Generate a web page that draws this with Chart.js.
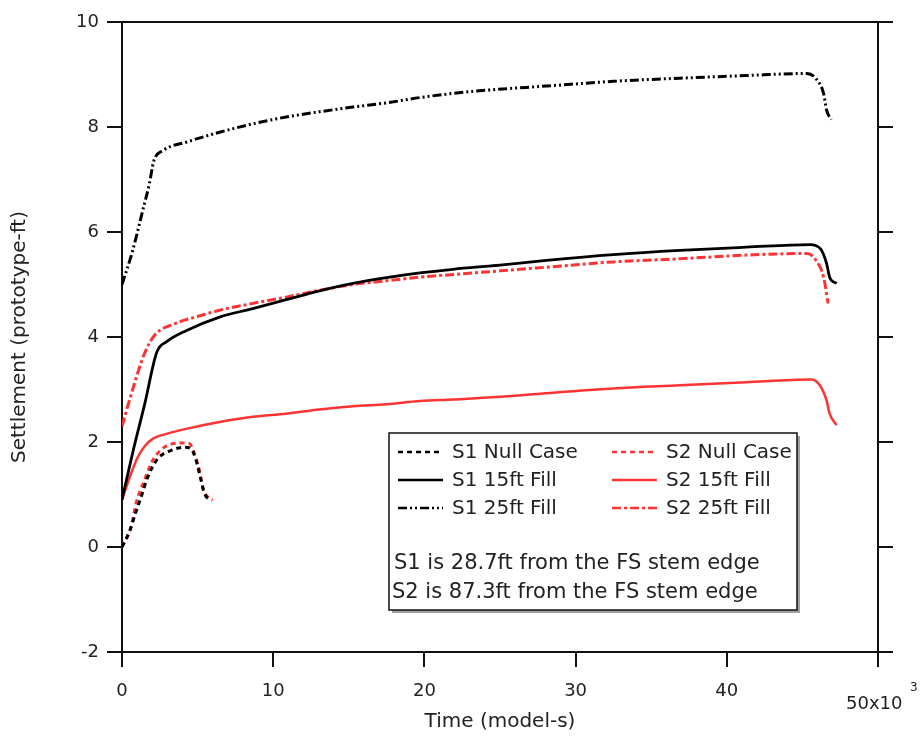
<!DOCTYPE html>
<html>
<head>
<meta charset="utf-8">
<title>Settlement vs time</title>
<script src="https://cdn.jsdelivr.net/npm/chart.js@4.4.1/dist/chart.umd.min.js"></script>
<style>
  html, body { margin: 0; padding: 0; background: #fff; }
  #wrap { width: 920px; height: 738px; }
</style>
</head>
<body>
<div id="wrap"><canvas id="settlementChart" width="920" height="738"></canvas></div>
<script>
// Time in thousands of model-seconds, settlement in prototype-ft
var s1NullT = [0, 0.5, 0.9, 1.26, 1.7, 2.36, 3.25, 4.13, 4.57, 4.9, 5.23, 5.45, 5.9];
var s1NullY = [0, 0.3, 0.65, 0.95, 1.33, 1.68, 1.84, 1.9, 1.87, 1.65, 1.27, 1.02, 0.89];

var s2NullT = [0, 0.6, 0.93, 1.48, 2.03, 2.8, 3.9, 4.46, 4.79, 5.12, 5.34, 5.67, 6.0];
var s2NullY = [0, 0.38, 0.83, 1.27, 1.65, 1.9, 1.98, 1.97, 1.78, 1.46, 1.14, 0.95, 0.89];

var s1Fill15T = [0, 0.71, 1.5, 2.3, 3.0, 4.24, 6.45, 8.65, 10.86, 13.06, 15.27, 17.5, 19.7, 21.9, 25, 28.07, 32.5, 36.9, 41.3, 45.5, 46.2, 46.6, 46.8, 47.26];
var s1Fill15Y = [0.9, 1.8, 2.72, 3.71, 3.92, 4.12, 4.38, 4.54, 4.71, 4.88, 5.02, 5.13, 5.22, 5.29, 5.37, 5.46, 5.57, 5.65, 5.71, 5.76, 5.68, 5.40, 5.14, 5.02];

var s2Fill15T = [0, 0.6, 1.04, 1.5, 2.03, 3, 4.24, 6.45, 8.65, 10.86, 13.06, 15.27, 17.5, 19.7, 21.9, 25, 28.07, 32.5, 36.9, 41.3, 45.6, 46.15, 46.6, 46.8, 47.26];
var s2Fill15Y = [0.9, 1.4, 1.71, 1.92, 2.06, 2.16, 2.25, 2.38, 2.48, 2.54, 2.62, 2.68, 2.72, 2.78, 2.81, 2.86, 2.93, 3.02, 3.08, 3.14, 3.19, 3.08, 2.79, 2.54, 2.32];

var s1Fill25T = [0, 0.71, 1.37, 1.81, 2.1, 2.7, 4.24, 6.45, 8.65, 10.86, 13.06, 15.27, 17.5, 19.7, 21.9, 24.5, 28.07, 32.5, 36.9, 41.3, 45.3, 45.9, 46.4, 46.6, 46.9];
var s1Fill25Y = [5.0, 5.65, 6.41, 6.92, 7.35, 7.55, 7.71, 7.9, 8.06, 8.19, 8.29, 8.38, 8.46, 8.56, 8.64, 8.71, 8.78, 8.87, 8.93, 8.98, 9.02, 8.92, 8.64, 8.32, 8.14];

var s2Fill25T = [0, 0.82, 1.48, 2.14, 3.47, 5.23, 6.45, 8.65, 10.86, 13.06, 15.27, 17.5, 19.7, 21.9, 25, 28.07, 32.5, 36.9, 41.3, 45.3, 45.9, 46.4, 46.7];
var s2Fill25Y = [2.3, 3.11, 3.68, 4.03, 4.25, 4.41, 4.51, 4.64, 4.76, 4.89, 5.0, 5.07, 5.14, 5.19, 5.26, 5.33, 5.43, 5.49, 5.56, 5.59, 5.46, 5.14, 4.64];

var noteLines = ['S1 is 28.7ft from the FS stem edge', 'S2 is 87.3ft from the FS stem edge'];

var BLACK = '#000000';
var RED = '#ff3333';
var FONT = '"DejaVu Sans", "Liberation Sans", sans-serif';

function toPoints(ts, ys) {
    var pts = [];
    for (var i = 0; i < ts.length; i++)
        pts.push({x: ts[i], y: ys[i]});
    return pts;
}

function makeSeries(label, ts, ys, color, dash, width) {
    return {
        label: label,
        data: toPoints(ts, ys),
        borderColor: color,
        borderWidth: width,
        borderDash: dash,
        borderCapStyle: 'butt',
        pointRadius: 0,
        fill: false,
        cubicInterpolationMode: 'monotone'
    };
}

var NULL_DASH = [5, 4];
var FILL25_BLACK_DASH = [9, 3, 2, 3, 2, 3];
var FILL25_RED_DASH = [9, 3, 3, 3];

var datasets = [
    makeSeries('S1 Null Case', s1NullT, s1NullY, BLACK, NULL_DASH, 3),
    makeSeries('S1 15ft Fill', s1Fill15T, s1Fill15Y, BLACK, [], 2.8),
    makeSeries('S1 25ft Fill', s1Fill25T, s1Fill25Y, BLACK, FILL25_BLACK_DASH, 3),
    makeSeries('S2 Null Case', s2NullT, s2NullY, RED, NULL_DASH, 3),
    makeSeries('S2 15ft Fill', s2Fill15T, s2Fill15Y, RED, [], 2.5),
    makeSeries('S2 25ft Fill', s2Fill25T, s2Fill25Y, RED, FILL25_RED_DASH, 3)
];

/**
 * Draws the boxed legend with the two note lines, plus the "50x10^3" end label.
 */
var boxLegendPlugin = {
    id: 'boxLegend',
    afterDraw: function (chart) {
        var ctx = chart.ctx;
        var bx = 389, by = 433, bw = 408, bh = 177;

        ctx.save();
        // shadow + box
        ctx.fillStyle = '#a0a0a0';
        ctx.fillRect(bx + 3, by + 3, bw, bh);
        ctx.fillStyle = '#ffffff';
        ctx.fillRect(bx, by, bw, bh);
        ctx.strokeStyle = '#111';
        ctx.lineWidth = 1.5;
        ctx.strokeRect(bx, by, bw, bh);

        ctx.font = '20px ' + FONT;
        ctx.textBaseline = 'middle';
        ctx.textAlign = 'left';
        var rows = [452, 480, 508];
        var cols = [398, 612];
        var ds = chart.data.datasets;
        for (var i = 0; i < ds.length; i++) {
            var c = Math.floor(i / 3), r = i % 3;
            var lx = cols[c], ly = rows[r];
            ctx.strokeStyle = ds[i].borderColor;
            ctx.lineWidth = 2.5;
            ctx.setLineDash(ds[i].borderDash);
            ctx.beginPath();
            ctx.moveTo(lx, ly);
            ctx.lineTo(lx + 45, ly);
            ctx.stroke();
            ctx.setLineDash([]);
            ctx.fillStyle = '#222';
            ctx.fillText(ds[i].label, lx + 54, ly + 1);
        }
        ctx.font = '21px ' + FONT;
        ctx.fillText(noteLines[0], 394, 564);
        ctx.fillText(noteLines[1], 392, 593);

        // last x tick label with exponent
        var xs = chart.scales.x;
        var px = xs.getPixelForValue(50);
        ctx.font = '18px ' + FONT;
        ctx.fillText('50x10', px - 32, 704);
        ctx.font = '12px ' + FONT;
        ctx.fillText('3', px + 32, 688);
        ctx.restore();
    }
};

var axisGrid = {display: true, drawOnChartArea: false, drawTicks: true, tickLength: 15, color: '#111', lineWidth: 2};
var axisBorder = {display: true, color: '#111', width: 2};

new Chart(document.getElementById('settlementChart'), {
    type: 'line',
    data: {datasets: datasets},
    options: {
        responsive: false,
        animation: false,
        layout: {padding: 0},
        plugins: {legend: {display: false}, tooltip: {enabled: false}},
        scales: {
            x: {
                type: 'linear', position: 'bottom', min: 0, max: 50,
                ticks: {stepSize: 10, padding: 14, color: '#222', font: {size: 18, family: FONT},
                        callback: function (v) { return v === 50 ? '' : v; }},
                grid: axisGrid, border: axisBorder,
                title: {display: true, text: 'Time (model-s)', color: '#222', font: {size: 20, family: FONT}, padding: {top: 0, bottom: 4}},
                afterFit: function (s) { s.height = 86; }
            },
            x2: {
                type: 'linear', position: 'top', min: 0, max: 50,
                ticks: {display: false},
                grid: {display: true, drawOnChartArea: false, drawTicks: false, color: '#111', lineWidth: 2},
                border: axisBorder,
                afterFit: function (s) { s.height = 22; }
            },
            y: {
                type: 'linear', position: 'left', min: -2, max: 10,
                ticks: {stepSize: 2, padding: 8, color: '#222', font: {size: 18, family: FONT}},
                grid: axisGrid, border: axisBorder,
                title: {display: true, text: 'Settlement (prototype-ft)', color: '#222', font: {size: 20, family: FONT}, padding: {top: 8, bottom: 0}},
                afterFit: function (s) { s.width = 122; }
            },
            y2: {
                type: 'linear', position: 'right', min: -2, max: 10,
                ticks: {display: false, stepSize: 2},
                grid: axisGrid, border: axisBorder,
                afterFit: function (s) { s.width = 42; }
            }
        }
    },
    plugins: [boxLegendPlugin]
});
</script>
</body>
</html>
